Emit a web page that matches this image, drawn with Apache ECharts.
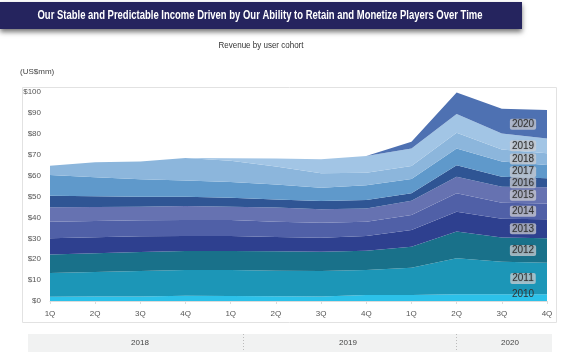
<!DOCTYPE html>
<html>
<head>
<meta charset="utf-8">
<script src="https://cdn.jsdelivr.net/npm/echarts@6/dist/echarts.min.js"></script>
<style>
html, body { margin: 0; padding: 0; background: #fff; }
#main { width: 580px; height: 352px; }
</style>
</head>
<body>
<div id="main"></div>
<script>
var quarters = ['1Q','2Q','3Q','4Q','1Q','2Q','3Q','4Q','1Q','2Q','3Q','4Q'];
var years = ['2018', '2019', '2020'];
var cohortNames = ['2010','2011','2012','2013','2014','2015','2016','2017','2018','2019','2020'];

// revenue per cohort, US$mm
var c2010 = [2.0, 2.1, 2.2, 2.5, 2.4, 2.3, 2.2, 2.9, 2.9, 3.2, 3.2, 3.2];
var c2011 = [11.4, 11.8, 12.2, 12.3, 12.4, 12.2, 12.2, 11.9, 13.0, 17.2, 15.6, 15.1];
var c2012 = [8.9, 8.9, 9.0, 9.1, 9.1, 9.3, 9.2, 9.3, 10.1, 12.8, 11.6, 11.7];
var c2013 = [7.7, 7.7, 7.6, 7.2, 7.2, 6.8, 6.7, 7.0, 8.0, 9.5, 8.9, 9.1];
var c2014 = [7.9, 7.8, 7.6, 7.7, 7.7, 7.3, 7.2, 6.8, 7.1, 8.8, 7.7, 7.6];
var c2015 = [6.9, 6.7, 6.5, 6.7, 6.3, 6.8, 6.4, 6.4, 6.9, 8.0, 7.7, 7.7];
var c2016 = [5.6, 5.1, 4.8, 4.4, 4.3, 3.9, 3.9, 4.0, 3.5, 5.5, 4.8, 4.3];
var c2017 = [9.9, 9.1, 8.3, 7.7, 7.5, 7.2, 6.4, 7.1, 6.9, 8.0, 7.2, 6.4];
var c2018 = [4.4, 7.2, 8.5, 10.8, 10.2, 8.5, 6.9, 6.0, 6.2, 7.5, 5.8, 5.6];
var c2019 = [0, 0, 0, 0, 1.2, 3.9, 6.7, 8.0, 8.4, 9.0, 7.7, 7.1];
var c2020 = [0, 0, 0, 0, 0, 0, 0, 0, 3.2, 10.3, 11.8, 13.6];

var yTicks = ['$0','$10','$20','$30','$40','$50','$60','$70','$80','$90','$100'];

var cohortData = [c2010, c2011, c2012, c2013, c2014, c2015, c2016, c2017, c2018, c2019, c2020];
var colors = ['#2cc1e9','#1c96b7','#19718a','#2e408f','#5060a7','#6672b1',
              '#2f5594','#5f99cb','#8cb6dc','#a2c5e5','#4e71b2'];

var myChart = echarts.init(document.getElementById('main'));

var series = [];
for (var i = 0; i < cohortData.length; i++) {
    series.push({
        name: cohortNames[i],
        type: 'line',
        stack: 'total',
        data: cohortData[i],
        symbol: 'none',
        lineStyle: { width: 0 },
        areaStyle: { color: colors[i], opacity: 1 },
        itemStyle: { color: colors[i] },
        silent: true,
        animation: false
    });
}

var font = '"Liberation Sans", Arial, sans-serif';

option = {
    animation: false,
    grid: { left: 50, right: 33, top: 92, bottom: 51 },
    xAxis: {
        type: 'category',
        boundaryGap: false,
        data: quarters,
        axisLine: { lineStyle: { color: '#dcdcdc' } },
        axisTick: { show: true, length: 3, lineStyle: { color: '#dcdcdc' } },
        axisLabel: { color: '#555', fontSize: 8, fontFamily: font, margin: 9 }
    },
    yAxis: {
        type: 'value',
        min: 0,
        max: 100,
        interval: 10,
        splitLine: { show: false },
        axisLine: { show: false },
        axisTick: { show: false },
        axisLabel: {
            color: '#555', fontSize: 8, fontFamily: font, margin: 9,
            formatter: function (v) { return yTicks[Math.round(v / 10)]; }
        }
    },
    series: series
};
myChart.setOption(option, true);

// squeeze a text to a wanted width (the source uses a condensed face)
function squeeze(text, cssFont, wanted) {
    var ctx = document.createElement('canvas').getContext('2d');
    ctx.font = cssFont;
    var w = ctx.measureText(text).width;
    return w > 0 ? wanted / w : 1;
}

var titleText = 'Our Stable and Predictable Income Driven by Our Ability to Retain and Monetize Players Over Time';
var subText = 'Revenue by user cohort';

// static decoration: banner, subtitle, frame, year band
var graphics = [
    { type: 'rect', shape: { x: 0, y: 2, width: 522, height: 27 },
      style: { fill: '#25245e', shadowBlur: 5, shadowOffsetY: 3, shadowColor: 'rgba(0,0,0,0.55)' } },
    { type: 'text', x: 260, y: 15.5,
      scaleX: squeeze(titleText, 'bold 12px "Liberation Sans"', 445),
      style: { text: titleText, fill: '#fff', fontSize: 12, fontFamily: '"Liberation Sans"',
               fontWeight: 'bold', align: 'center', verticalAlign: 'middle' } },
    { type: 'text', x: 261, y: 46,
      scaleX: squeeze(subText, '9px "Liberation Sans"', 85),
      style: { text: subText, fill: '#333', fontSize: 9, fontFamily: '"Liberation Sans"',
               align: 'center', verticalAlign: 'middle' } },
    { type: 'text', x: 20, y: 72,
      style: { text: '(US$mm)', fill: '#444', fontSize: 8, fontFamily: font,
               align: 'left', verticalAlign: 'middle' } },
    { type: 'rect', z: -1, shape: { x: 22.5, y: 87.5, width: 534, height: 235 },
      style: { fill: 'none', stroke: '#e2e2e2', lineWidth: 1 } },
    { type: 'rect', shape: { x: 28, y: 334, width: 524, height: 20 }, style: { fill: '#f1f2f2' } },
    { type: 'line', shape: { x1: 243.5, y1: 334, x2: 243.5, y2: 352 },
      style: { stroke: '#bbb', lineDash: [1, 2], lineWidth: 1 } },
    { type: 'line', shape: { x1: 456.5, y1: 334, x2: 456.5, y2: 352 },
      style: { stroke: '#bbb', lineDash: [1, 2], lineWidth: 1 } }
];
var yearX = [140, 348, 510];
for (var k = 0; k < years.length; k++) {
    graphics.push({ type: 'text', x: yearX[k], y: 343,
        style: { text: years[k], fill: '#444', fontSize: 8, fontFamily: font,
                 align: 'center', verticalAlign: 'middle' } });
}

// cohort labels placed at the middle of each band at the last quarter
var last = quarters.length - 1;
var base = 0;
for (var s = 0; s < cohortData.length; s++) {
    var v = cohortData[s][last];
    var p = myChart.convertToPixel({ gridIndex: 0 }, [last, base + v / 2]);
    base += v;
    var lbl = { type: 'text', x: p[0] - 24, y: p[1], z: 10,
        style: { text: cohortNames[s], fill: '#333', fontSize: 10, fontFamily: font,
                 align: 'center', verticalAlign: 'middle' } };
    if (s > 0) {
        lbl.style.backgroundColor = 'rgba(205,205,210,0.75)';
        lbl.style.padding = [1, 2, 0, 2];
        lbl.style.borderRadius = 2;
        lbl.style.textShadowColor = 'rgba(0,0,0,0.35)';
        lbl.style.textShadowBlur = 2;
    } else {
        lbl.y = p[1] - 3;
    }
    graphics.push(lbl);
}
myChart.setOption({ graphic: graphics });

window.onresize = function () { myChart.resize(); };
</script>
</body>
</html>
